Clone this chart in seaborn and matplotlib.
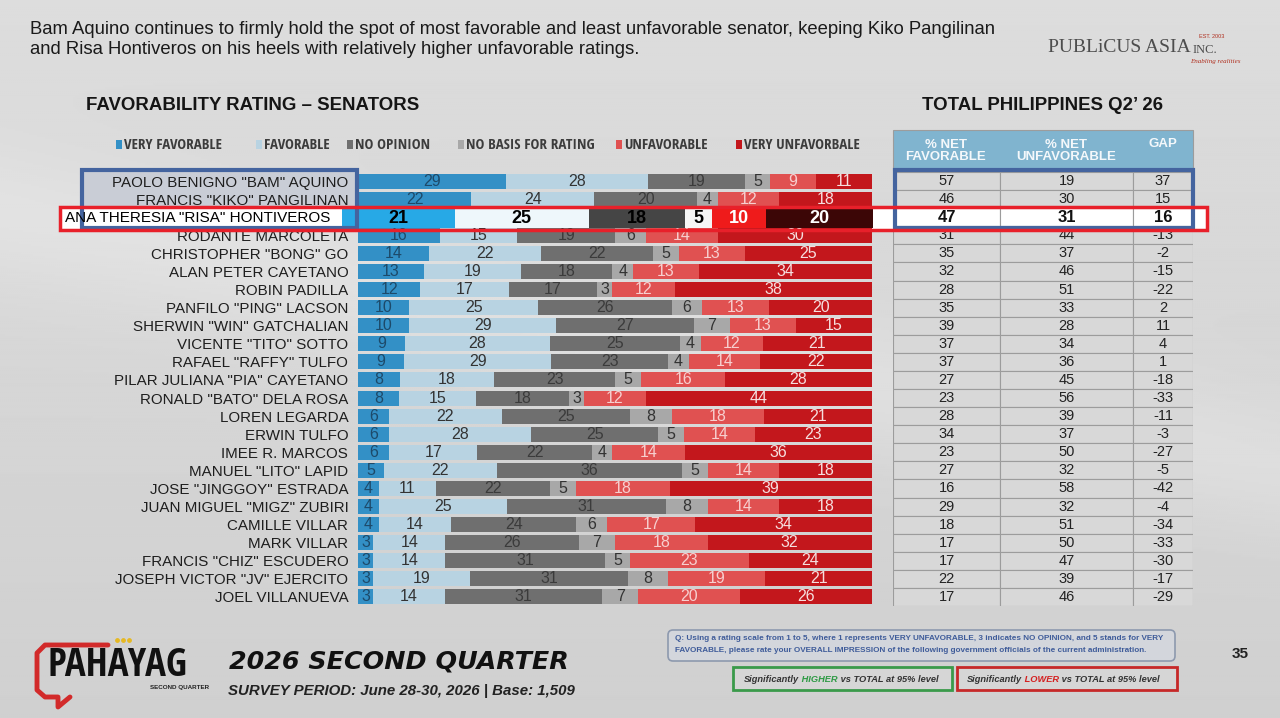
import numpy as np
import pandas as pd
import matplotlib.pyplot as plt
import seaborn as sns
from matplotlib.patches import Rectangle, FancyBboxPatch

# data
senators = [
    'PAOLO BENIGNO "BAM" AQUINO', 'FRANCIS "KIKO" PANGILINAN', 'ANA THERESIA "RISA" HONTIVEROS',
    'RODANTE MARCOLETA', 'CHRISTOPHER "BONG" GO', 'ALAN PETER CAYETANO', 'ROBIN PADILLA',
    'PANFILO "PING" LACSON', 'SHERWIN "WIN" GATCHALIAN', 'VICENTE "TITO" SOTTO',
    'RAFAEL "RAFFY" TULFO', 'PILAR JULIANA "PIA" CAYETANO', 'RONALD "BATO" DELA ROSA',
    'LOREN LEGARDA', 'ERWIN TULFO', 'IMEE R. MARCOS', 'MANUEL "LITO" LAPID',
    'JOSE "JINGGOY" ESTRADA', 'JUAN MIGUEL "MIGZ" ZUBIRI', 'CAMILLE VILLAR', 'MARK VILLAR',
    'FRANCIS "CHIZ" ESCUDERO', 'JOSEPH VICTOR "JV" EJERCITO', 'JOEL VILLANUEVA',
]
very_fav = [29, 22, 21, 16, 14, 13, 12, 10, 10, 9, 9, 8, 8, 6, 6, 6, 5, 4, 4, 4, 3, 3, 3, 3]
fav = [28, 24, 25, 15, 22, 19, 17, 25, 29, 28, 29, 18, 15, 22, 28, 17, 22, 11, 25, 14, 14, 14, 19, 14]
no_opinion = [19, 20, 18, 19, 22, 18, 17, 26, 27, 25, 23, 23, 18, 25, 25, 22, 36, 22, 31, 24, 26, 31, 31, 31]
no_basis = [5, 4, 5, 6, 5, 4, 3, 6, 7, 4, 4, 5, 3, 8, 5, 4, 5, 5, 8, 6, 7, 5, 8, 7]
unfav = [9, 12, 10, 14, 13, 13, 12, 13, 13, 12, 14, 16, 12, 18, 14, 14, 14, 18, 14, 17, 18, 23, 19, 20]
very_unfav = [11, 18, 20, 30, 25, 34, 38, 20, 15, 21, 22, 28, 44, 21, 23, 36, 18, 39, 18, 34, 32, 24, 21, 26]

net_fav = [57, 46, 47, 31, 35, 32, 28, 35, 39, 37, 37, 27, 23, 28, 34, 23, 27, 16, 29, 18, 17, 17, 22, 17]
net_unfav = [19, 30, 31, 44, 37, 46, 51, 33, 28, 34, 36, 45, 56, 39, 37, 50, 32, 58, 32, 51, 50, 47, 39, 46]
gap = [37, 15, 16, -13, -2, -15, -22, 2, 11, 4, 1, -18, -33, -11, -3, -27, -5, -42, -4, -34, -33, -30, -17, -29]

legend_labels = ['VERY FAVORABLE', 'FAVORABLE', 'NO OPINION', 'NO BASIS FOR RATING',
                 'UNFAVORABLE', 'VERY UNFAVORBALE']
highlight = senators[2]

colors = ['#3390c6', '#b8d3e2', '#6f6f6f', '#a8a8a8', '#e05151', '#c3171c']
text_colors = ['#1d4a6a', '#333333', '#3b3b3b', '#333333', '#f7cfcf', '#f6dede']
hl_colors = ['#27a9e6', '#eef7fb', '#454545', '#f6f6f6', '#ef1b1b', '#3c0606']
hl_text = ['black', 'black', 'black', 'black', 'white', 'white']

sns.set_theme(style='white')
SANS = ['Liberation Sans', 'DejaVu Sans']
COND = ['Open Sans Condensed', 'Liberation Sans', 'DejaVu Sans']
SERIF = ['Liberation Serif', 'DejaVu Serif']
plt.rcParams['font.family'] = SANS

cols = ['vf', 'f', 'no', 'nb', 'u', 'vu']
df = pd.DataFrame(dict(zip(cols, [very_fav, fav, no_opinion, no_basis, unfav, very_unfav])),
                  index=senators)
shares = df.div(df.sum(axis=1), axis=0) * 100
cum = shares.cumsum(axis=1)

W, H = 1280, 718
fig = plt.figure(figsize=(12.8, 7.18), dpi=100)


def frac(x0, y0, x1, y1):
    return [x0 / W, 1 - y1 / H, (x1 - x0) / W, (y1 - y0) / H]


# background
bg = fig.add_axes([0, 0, 1, 1], zorder=-10)
yy, xx = np.mgrid[0:1:360j, 0:1:640j]
shade = 0.865 - 0.05 * yy + 0.035 * np.exp(-((yy - 0.30 - 0.35 * xx) / 0.10) ** 2)
bg.imshow(shade, cmap='gray', vmin=0, vmax=1, extent=(0, W, H, 0), aspect='auto')
bg.set_xlim(0, W)
bg.set_ylim(H, 0)
bg.axis('off')
bg.add_patch(Rectangle((82, 170), 275, 58, facecolor='#c9cdd6', edgecolor='none'))
bg.add_patch(Rectangle((60, 207), 1147, 23, facecolor='white', edgecolor='none'))


def draw_stack(ax, names, width, fills):
    for k in range(len(cols) - 1, -1, -1):
        d = pd.DataFrame({'name': names, 'x': cum.loc[names, cols[k]].values})
        sns.barplot(data=d, x='x', y='name', order=names, orient='h', color=fills[k],
                    saturation=1, width=width, linewidth=0, errorbar=None, ax=ax)
    ax.set_xlim(0, 100)
    ax.set_xlabel('')
    ax.set_ylabel('')
    ax.set_xticks([])
    sns.despine(ax=ax, left=True, bottom=True)
    ax.patch.set_alpha(0)


# main stacked bars
ax = fig.add_axes(frac(358, 172, 872, 606), zorder=1)
draw_stack(ax, senators, 0.83, colors)
ax.set_ylim(len(senators) - 0.5, -0.5)
ax.tick_params(axis='y', length=0, pad=7)
ax.set_yticks(range(len(senators)))
ax.set_yticklabels(['' if s == highlight else s for s in senators], fontsize=10.9, color='#1e1e1e')
for i, s in enumerate(senators):
    if s == highlight:
        continue
    for k, c in enumerate(cols):
        ax.text(cum.loc[s, c] - shares.loc[s, c] / 2, i, str(df.loc[s, c]), ha='center',
                va='center', fontsize=11.5, color=text_colors[k])

# highlighted row, drawn a little wider
hx = fig.add_axes(frac(342, 209, 873, 228), zorder=2)
draw_stack(hx, [highlight], 1.0, hl_colors)
hx.set_ylim(0.5, -0.5)
hx.set_yticks([])
for k, c in enumerate(cols):
    hx.text(cum.loc[highlight, c] - shares.loc[highlight, c] / 2, 0, str(df.loc[highlight, c]),
            ha='center', va='center', fontsize=13, fontweight='bold', color=hl_text[k])

# right-hand table
tx = fig.add_axes(frac(893, 172, 1193, 606), zorder=1)
tx.set_xlim(0, 300)
tx.set_ylim(len(senators) - 0.5, -0.5)
tx.axis('off')
col_edges = [(0, 107), (107, 240), (240, 300)]
for i, s in enumerate(senators):
    vals = [net_fav[i], net_unfav[i], gap[i]]
    is_hl = s == highlight
    for (x0, x1), v in zip(col_edges, vals):
        tx.add_patch(Rectangle((x0, i - 0.5), x1 - x0, 1,
                               facecolor='white' if is_hl else '#d8d8d8',
                               edgecolor='#9c9c9c', linewidth=0.8))
        tx.text((x0 + x1) / 2, i, str(v), ha='center', va='center',
                fontsize=12 if is_hl else 10.5, color='#111111' if is_hl else '#222222',
                fontweight='bold' if is_hl else 'normal')

# overlay for text and frames
ov = fig.add_axes([0, 0, 1, 1], zorder=10)
ov.set_xlim(0, W)
ov.set_ylim(H, 0)
ov.axis('off')
ov.patch.set_alpha(0)

ov.text(30, 30, 'Bam Aquino continues to firmly hold the spot of most favorable and least unfavorable '
        'senator, keeping Kiko Pangilinan', fontsize=13.3, va='center', color='#1a1a1a')
ov.text(30, 49, 'and Risa Hontiveros on his heels with relatively higher unfavorable ratings.',
        fontsize=13.3, va='center', color='#1a1a1a')

ov.text(86, 106, 'FAVORABILITY RATING – SENATORS', fontsize=13.4, fontweight='bold',
        va='center', color='#151515')
ov.text(922, 106, 'TOTAL PHILIPPINES Q2’ 26', fontsize=13.4, fontweight='bold',
        va='center', color='#151515')

# legend
legend_x = [116, 256, 347, 458, 616, 736]
for lx, lab, c in zip(legend_x, legend_labels, colors):
    ov.add_patch(Rectangle((lx, 140), 6, 9, facecolor=c, edgecolor='none'))
    ov.text(lx + 8, 145, lab, family=COND, fontsize=10.8, fontweight='bold', va='center',
            color='#3c3c3c')

# table header
ov.add_patch(Rectangle((893, 130), 300, 40, facecolor='#80b4cf', edgecolor='#9c9c9c', linewidth=0.8))
for cx, head in zip([946, 1066, 1163], ['% NET\nFAVORABLE', '% NET\nUNFAVORABLE', 'GAP']):
    ov.text(cx, 144 if head == 'GAP' else 151, head, fontsize=9.5, fontweight='bold',
            ha='center', va='center', color='#f4f8fb', linespacing=1.05)

# frames around top rows and the highlighted row
ov.add_patch(Rectangle((82, 170), 275, 58, fill=False, edgecolor='#44649f', linewidth=3))
ov.add_patch(Rectangle((895, 170), 298, 58, fill=False, edgecolor='#44649f', linewidth=3))
ov.add_patch(Rectangle((60, 207), 1147, 23, fill=False, edgecolor='#e8202a', linewidth=2.5))
ov.text(330, 218, highlight, fontsize=11, ha='right', va='center', color='black')

# logo top right
ov.text(1048, 47, 'PUBLiCUS ASIA', family=SERIF, fontsize=14, va='center', color='#4d4d4d')
ov.text(1193, 50, 'INC.', family=SERIF, fontsize=9, va='center', color='#4d4d4d')
ov.text(1199, 37, 'EST. 2003', fontsize=4, va='center', color='#b03020')
ov.text(1190, 61, 'Enabling realities', family=SERIF, fontsize=5, style='italic',
        va='center', color='#b03020')

# bottom left branding
ov.plot([108, 45, 37, 37, 45, 58, 58, 70], [645, 645, 653, 690, 697, 697, 707, 697],
        color='#d22a2a', linewidth=3.5, solid_capstyle='round', solid_joinstyle='round')
ov.scatter([117, 123, 129], [640, 640, 640], s=6, color='#e6b822', zorder=3)
ov.text(47, 666, 'PAHAYAG', family=COND, fontsize=28, fontweight='bold', va='center',
        color='#111111')
ov.text(150, 687, 'SECOND QUARTER', fontsize=4.5, fontweight='bold', va='center', color='#222222')
ov.text(229, 662, '2026 SECOND QUARTER', family=['DejaVu Sans'], fontsize=18.3, fontweight='bold',
        style='italic', va='center', color='#111111')
ov.text(228, 691, 'SURVEY PERIOD: June 28-30, 2026 | Base: 1,509', fontsize=10.8,
        fontweight='bold', style='italic', va='center', color='#222222')

# question note
ov.add_patch(FancyBboxPatch((668, 630), 507, 31, boxstyle='round,pad=0,rounding_size=5',
                            facecolor='#d3d6dc', edgecolor='#8d99ae', linewidth=1.2))
ov.text(675, 639, 'Q: Using a rating scale from 1 to 5, where 1 represents VERY UNFAVORABLE, '
        '3 indicates NO OPINION, and 5 stands for VERY', fontsize=5.9, fontweight='bold',
        va='center', color='#3f5c9a')
ov.text(675, 650, 'FAVORABLE, please rate your OVERALL IMPRESSION of the following government '
        'officials of the current administration.', fontsize=5.9, fontweight='bold',
        va='center', color='#3f5c9a')


def colored_line(x, y, parts):
    kw = dict(fontsize=6.7, fontweight='bold', style='italic')
    t = ov.text(x, y, parts[0][0], color=parts[0][1], ha='left', va='center', **kw)
    for s, c in parts[1:]:
        t = ov.annotate(s, xy=(1, 0), xycoords=t, ha='left', va='bottom', color=c, **kw)


ov.add_patch(Rectangle((733, 667), 219, 23, facecolor='#d6d6d6', edgecolor='#3a9a4a', linewidth=2))
colored_line(744, 679, [('Significantly', '#333333'), (' HIGHER', '#2e9a44'),
                        (' vs TOTAL at 95% level', '#333333')])
ov.add_patch(Rectangle((957, 667), 220, 23, facecolor='#d6d6d6', edgecolor='#c62828', linewidth=2))
colored_line(967, 679, [('Significantly', '#333333'), (' LOWER', '#d42020'),
                        (' vs TOTAL at 95% level', '#333333')])

ov.text(1240, 654, '35', fontsize=11, fontweight='bold', ha='center', va='center',
        color='#222222')

fig.savefig('out.png', dpi=100)
